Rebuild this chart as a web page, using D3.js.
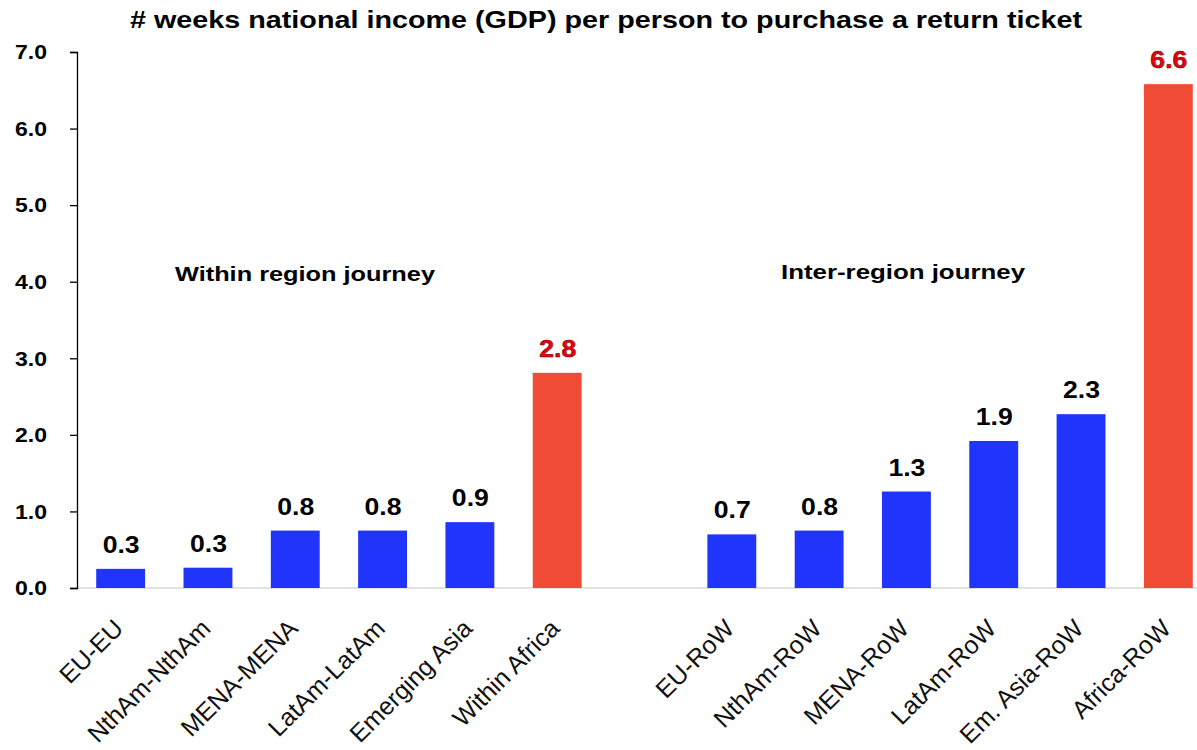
<!DOCTYPE html>
<html>
<head>
<meta charset="utf-8">
<script src="https://cdn.jsdelivr.net/npm/d3@7"></script>
<style>
  body { margin: 0; background: #fff; }
  text { font-family: "Liberation Sans", Arial, sans-serif; }
</style>
</head>
<body>
<div id="chart"></div>
<script>
// data
const categories = ["EU-EU", "NthAm-NthAm", "MENA-MENA", "LatAm-LatAm", "Emerging Asia", "Within Africa",
                    "", "EU-RoW", "NthAm-RoW", "MENA-RoW", "LatAm-RoW", "Em. Asia-RoW", "Africa-RoW"];
const values = [0.25, 0.265, 0.75, 0.75, 0.86, 2.81, null, 0.70, 0.75, 1.26, 1.92, 2.27, 6.58];
const valueLabels = ["0.3", "0.3", "0.8", "0.8", "0.9", "2.8", "", "0.7", "0.8", "1.3", "1.9", "2.3", "6.6"];
const highlight = ["Within Africa", "Africa-RoW"];
const yTicks = [0, 1, 2, 3, 4, 5, 6, 7];

const W = 1197, H = 750;
const svg = d3.select("#chart").append("svg")
  .attr("width", W).attr("height", H);

const x = d3.scaleBand()
  .domain(d3.range(categories.length))
  .range([77, 1212])
  .paddingInner(0.44)
  .paddingOuter(0.22);

const y = d3.scaleLinear().domain([0, 7]).range([588, 52]);

// title
svg.append("text")
  .attr("x", 130).attr("y", 28)
  .style("font-size", "24px").style("font-weight", "bold")
  .attr("textLength", 952).attr("lengthAdjust", "spacingAndGlyphs")
  .text("# weeks national income (GDP) per person to purchase a return ticket");

// baseline
svg.append("line")
  .attr("x1", 77).attr("x2", W)
  .attr("y1", y(0)).attr("y2", y(0))
  .attr("stroke", "#d9d9d9").attr("stroke-width", 1.5);

// y axis
const yAxis = svg.append("g")
  .attr("transform", "translate(77,0)")
  .call(d3.axisLeft(y).tickValues(yTicks).tickFormat(d3.format(".1f")).tickSize(7).tickPadding(23));
yAxis.select(".domain").attr("stroke", "#000").attr("stroke-width", 1.3);
yAxis.selectAll(".tick line").attr("stroke", "#000").attr("stroke-width", 1.3);
yAxis.selectAll(".tick text")
  .style("font-size", "21px").style("font-weight", "bold")
  .style("font-family", "Liberation Sans, Arial, sans-serif")
  .attr("textLength", 32).attr("lengthAdjust", "spacingAndGlyphs")
  .attr("fill", "#000");

const idx = d3.range(categories.length).filter(i => values[i] !== null);

// bars
svg.selectAll("rect.bar")
  .data(idx)
  .enter().append("rect")
  .attr("class", "bar")
  .attr("x", i => x(i))
  .attr("width", x.bandwidth())
  .attr("y", i => y(values[i]))
  .attr("height", i => y(0) - y(values[i]))
  .attr("fill", i => highlight.includes(categories[i]) ? "#f04b35" : "#2134fb");

// value labels
svg.selectAll("text.val")
  .data(idx)
  .enter().append("text")
  .attr("class", "val")
  .attr("x", i => x(i) + x.bandwidth() / 2 - 18)
  .attr("y", i => y(values[i]) - 16)
  .style("font-size", "23px").style("font-weight", "bold")
  .attr("textLength", 37).attr("lengthAdjust", "spacingAndGlyphs")
  .attr("fill", i => highlight.includes(categories[i]) ? "#f00010" : "#000")
  .attr("stroke", i => highlight.includes(categories[i]) ? "#6a0000" : "none")
  .attr("stroke-width", 0.5)
  .text(i => valueLabels[i]);

// category labels
svg.selectAll("text.cat")
  .data(idx)
  .enter().append("text")
  .attr("class", "cat")
  .attr("text-anchor", "end")
  .attr("transform", i => "translate(" + (x(i) + x.bandwidth() / 2 + 4) + "," + 630 + ") rotate(-45)")
  .style("font-size", "25px")
  .attr("fill", "#111")
  .text(i => categories[i]);

// group annotations
svg.append("text")
  .attr("x", 175).attr("y", 281)
  .style("font-size", "20px").style("font-weight", "bold")
  .attr("textLength", 260).attr("lengthAdjust", "spacingAndGlyphs")
  .text("Within region journey");
svg.append("text")
  .attr("x", 781).attr("y", 279)
  .style("font-size", "20px").style("font-weight", "bold")
  .attr("textLength", 244).attr("lengthAdjust", "spacingAndGlyphs")
  .text("Inter-region journey");
</script>
</body>
</html>
